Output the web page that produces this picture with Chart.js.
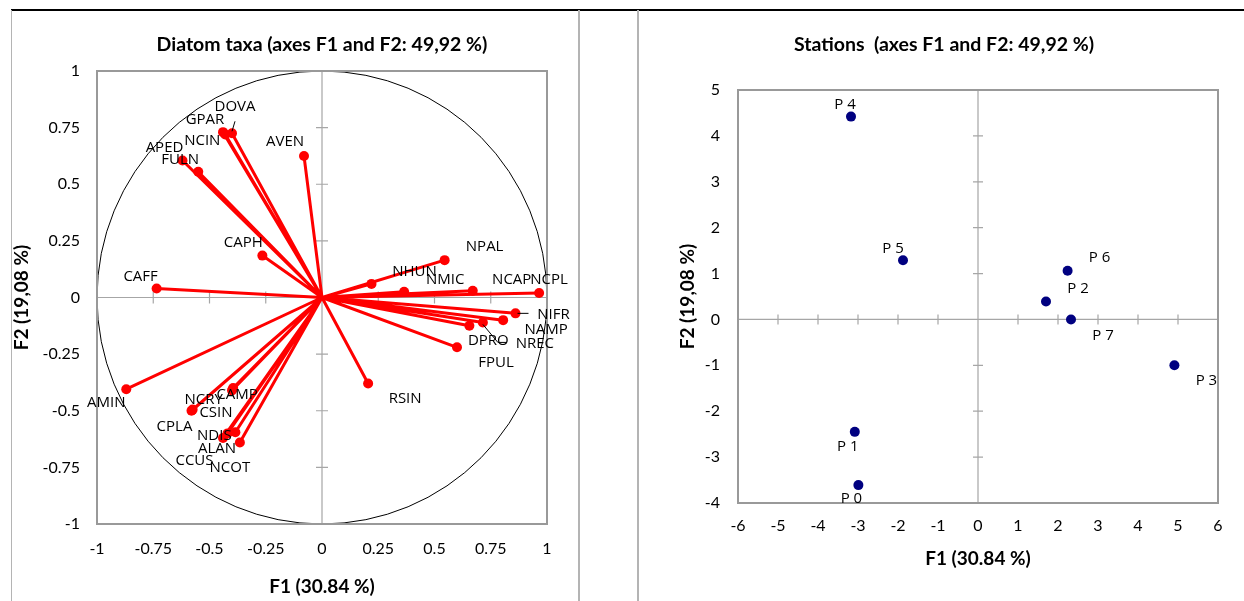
<!DOCTYPE html>
<html>
<head>
<meta charset="utf-8">
<script src="https://cdn.jsdelivr.net/npm/chart.js"></script>
<style>
html, body { margin: 0; padding: 0; background: #fff; }
body { width: 1244px; height: 601px; position: relative; overflow: hidden; }
.fr { position: absolute; background: #b4b4b4; }
canvas { position: absolute; top: 0; }
</style>
</head>
<body>
<div class="fr" style="left:11px;top:9px;width:1233px;height:2px;background:#000"></div>
<div class="fr" style="left:11px;top:10px;width:1px;height:591px"></div>
<div class="fr" style="left:578px;top:10px;width:2px;height:591px"></div>
<div class="fr" style="left:637px;top:10px;width:2px;height:591px"></div>
<canvas id="taxaChart" width="644" height="601" style="left:0;width:644px;height:601px"></canvas>
<canvas id="stChart" width="574" height="601" style="left:670px;width:574px;height:601px"></canvas>
<script>
// Diatom taxa, correlations with F1 / F2
var taxa = ["DOVA","GPAR","NCIN","AVEN","APED","FULN","CAPH","CAFF",
            "NPAL","NHUN","NMIC","NCAP","NCPL","NIFR","NAMP","NREC","DPRO","FPUL","RSIN",
            "AMIN","NCRY","CPLA","CAMP","CSIN","NDIS","ALAN","CCUS","NCOT"];
var taxaF1 = [-0.40,-0.44,-0.43,-0.08,-0.62,-0.55,-0.265,-0.735,
              0.545,0.22,0.365,0.67,0.965,0.86,0.805,0.715,0.655,0.60,0.205,
              -0.87,-0.575,-0.58,-0.395,-0.40,-0.385,-0.44,-0.42,-0.365];
var taxaF2 = [0.725,0.73,0.72,0.625,0.605,0.555,0.185,0.04,
              0.165,0.06,0.025,0.03,0.02,-0.07,-0.10,-0.11,-0.125,-0.22,-0.38,
              -0.405,-0.495,-0.50,-0.40,-0.41,-0.595,-0.62,-0.60,-0.64];
var corTicks = [-1,-0.75,-0.5,-0.25,0,0.25,0.5,0.75,1];

// Stations, factor scores
var stations = ["P 0","P 1","P 2","P 3","P 4","P 5","P 6","P 7"];
var stF1 = [-2.99,-3.08,1.70,4.91,-3.175,-1.875,2.24,2.325];
var stF2 = [-3.61,-2.45,0.39,-1.00,4.42,1.29,1.06,0.00];
var stTicksX = [-6,-5,-4,-3,-2,-1,0,1,2,3,4,5,6];
var stTicksY = [-4,-3,-2,-1,0,1,2,3,4,5];

// label placement (px offset of label centre from its point)
var taxaLabelPos = [[3,-27],[-18,-12],[-23,6],[-19,-14],[-18,-13],[-18,-12],[-19,-13],[-16,-12],
                    [40,-13],[43,-12],[41,-12],[39,-11],[10,-13],[38,1],[43,10],[52,21],[19,15],[39,15],[37,15],
                    [-20,14],[11,-10],[-17,16],[4,7],[-16,22],[-21,3],[-6,11],[-33,27],[-10,25]];
var taxaLeaders = { DOVA: [[0,-2],[3,-12]], NIFR: [[2,0],[13,0]], NREC: [[0,2],[15,20],[24,20]] };
var stLabelPos = [[-7,14],[-7,15],[32,-13],[32,15],[-6,-12],[-10,-12],[32,-13],[32,16]];

var tickFont = { family: "Lato", size: 16 };
var axisFont = { family: "Lato", size: 19, weight: "bold" };
var titleFont = { family: "Lato", size: 19.5, weight: "bold" };

function decor(opt) {
  return {
    id: "decor",
    beforeDatasetsDraw: function (chart) {
      var ctx = chart.ctx, a = chart.chartArea;
      var xs = chart.scales.x, ys = chart.scales.y;
      var x0 = xs.getPixelForValue(0), y0 = ys.getPixelForValue(0);
      ctx.save();
      if (opt.circle) {
        ctx.beginPath();
        ctx.ellipse(x0, y0, xs.getPixelForValue(1) - x0, y0 - ys.getPixelForValue(1), 0, 0, 2 * Math.PI);
        ctx.strokeStyle = "#000"; ctx.lineWidth = 1; ctx.stroke();
      }
      ctx.strokeStyle = "#a6a6a6"; ctx.lineWidth = 1.2;
      ctx.beginPath();
      ctx.moveTo(a.left, y0); ctx.lineTo(a.right, y0);
      ctx.moveTo(x0, a.top); ctx.lineTo(x0, a.bottom);
      xs.ticks.forEach(function (t) {
        var px = xs.getPixelForValue(t.value);
        ctx.moveTo(px, y0 - opt.tl); ctx.lineTo(px, y0 + opt.tl);
      });
      ys.ticks.forEach(function (t) {
        var py = ys.getPixelForValue(t.value);
        ctx.moveTo(x0 - opt.tl, py); ctx.lineTo(x0 + opt.tl, py);
      });
      ctx.stroke();
      ctx.strokeStyle = "#999"; ctx.lineWidth = 2;
      ctx.strokeRect(a.left, a.top, a.right - a.left, a.bottom - a.top);
      ctx.restore();
    },
    afterDatasetsDraw: function (chart) {
      var ctx = chart.ctx, meta = chart.getDatasetMeta(0);
      ctx.save();
      ctx.font = '15px "Open Sans"';
      ctx.fillStyle = "#000"; ctx.textAlign = "center"; ctx.textBaseline = "middle";
      opt.names.forEach(function (n, i) {
        var p = meta.data[i], d = opt.pos[i];
        ctx.fillText(n, p.x + d[0], p.y + d[1]);
        var ld = opt.leaders && opt.leaders[n];
        if (ld) {
          ctx.beginPath(); ctx.strokeStyle = "#000"; ctx.lineWidth = 1;
          ld.forEach(function (q, k) {
            if (k === 0) ctx.moveTo(p.x + q[0], p.y + q[1]); else ctx.lineTo(p.x + q[0], p.y + q[1]);
          });
          ctx.stroke();
        }
      });
      ctx.restore();
    }
  };
}

function axis(min, max, ticks, title, o) {
  return {
    type: "linear", min: min, max: max,
    afterBuildTicks: function (s) { s.ticks = ticks.map(function (v) { return { value: v }; }); },
    afterFit: function (s) { if (o.w) s.width = o.w; if (o.h) s.height = o.h; },
    grid: { display: false, drawTicks: false },
    border: { display: false },
    ticks: { font: tickFont, color: "#000", padding: o.pad, autoSkip: false, maxRotation: 0,
             callback: function (v) { return String(v); } },
    title: { display: true, text: title, font: axisFont, color: "#000", padding: o.tpad }
  };
}

// vectors from origin: origin, tip, gap
var vec = [];
taxa.forEach(function (n, i) {
  vec.push({ x: 0, y: 0 }, { x: taxaF1[i], y: taxaF2[i] }, { x: null, y: null });
});

new Chart(document.getElementById("taxaChart"), {
  type: "scatter",
  data: { datasets: [
    { data: taxaF1.map(function (v, i) { return { x: v, y: taxaF2[i] }; }),
      pointRadius: 5, backgroundColor: "#ff0000", borderWidth: 0, order: 0 },
    { data: vec, showLine: true, spanGaps: false, borderColor: "#ff0000", borderWidth: 3,
      pointRadius: 0, order: 1 }
  ]},
  options: {
    responsive: false, animation: false, events: [],
    layout: { padding: 0 },
    plugins: {
      legend: { display: false }, tooltip: { enabled: false },
      title: { display: true, text: "Diatom taxa (axes F1 and F2: 49,92 %)", font: titleFont, color: "#000",
               padding: { top: 33.3, bottom: 14.3 } }
    },
    scales: {
      x: axis(-1, 1, corTicks, "F1 (30.84 %)", { h: 77, pad: 15.4, tpad: { top: 0, bottom: 2.6 } }),
      y: axis(-1, 1, corTicks, "F2 (19,08 %)", { w: 97, pad: 17, tpad: { top: 10.6, bottom: 0 } }),
      // empty right axis, only keeps the plot centred under the title
      yr: { type: "linear", position: "right", min: -1, max: 1,
            grid: { display: false }, border: { display: false }, ticks: { display: false },
            afterFit: function (s) { s.width = 97; } }
    }
  },
  plugins: [decor({ circle: true, tl: 6, names: taxa, pos: taxaLabelPos, leaders: taxaLeaders })]
});

new Chart(document.getElementById("stChart"), {
  type: "scatter",
  data: { datasets: [
    { data: stF1.map(function (v, i) { return { x: v, y: stF2[i] }; }),
      pointRadius: 5, backgroundColor: "#000080", borderWidth: 0 }
  ]},
  options: {
    responsive: false, animation: false, events: [],
    layout: { padding: { left: 0, right: 26, top: 0, bottom: 0 } },
    plugins: {
      legend: { display: false }, tooltip: { enabled: false },
      title: { display: true, text: "Stations  (axes F1 and F2: 49,92 %)", font: titleFont, color: "#000",
               padding: { top: 33.3, bottom: 33.3 } }
    },
    scales: {
      x: axis(-6, 6, stTicksX, "F1 (30.84 %)", { h: 98, pad: 13.4, tpad: { top: 0, bottom: 30.6 } }),
      y: axis(-4, 5, stTicksY, "F2 (19,08 %)", { w: 68, pad: 18, tpad: { top: 6.6, bottom: 0 } })
    }
  },
  plugins: [decor({ circle: false, tl: 5, names: stations, pos: stLabelPos })]
});
</script>
</body>
</html>
